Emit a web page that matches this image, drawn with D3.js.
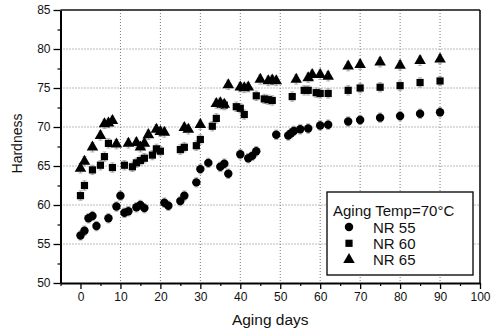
<!DOCTYPE html>
<html lang="en">
<head>
    <meta charset="UTF-8">
    <title>Hardness vs Aging days</title>
    <script src="https://cdnjs.cloudflare.com/ajax/libs/d3/7.8.5/d3.min.js"></script>
    <style>
        body {
            margin: 0;
            background-color: #ffffff;
            font-family: "Liberation Sans", Arial, sans-serif;
        }
        svg text {
            fill: #111;
        }
    </style>
</head>
<body>
    <div id="plot"></div>

    <script>
        // Data
        const nr55Days = [0, 1, 2, 3, 4, 7, 9, 10, 11, 12, 14, 15, 16, 21, 22, 25, 26, 29, 30, 32, 35, 36, 37,
            40, 42, 43, 44, 49, 52, 52.7, 53.4, 55, 57, 60, 62, 67, 70, 75, 80, 85, 90];
        const nr55Hardness = [56.1, 56.7, 58.3, 58.6, 57.3, 58.3, 59.8, 61.2, 59.0, 59.2, 59.7, 60.0, 59.6, 60.3, 59.9,
            60.5, 61.2, 62.9, 64.6, 65.4, 64.9, 65.3, 64.0, 66.5, 66.0, 66.3, 66.9, 69.0, 68.9, 69.2, 69.5,
            69.7, 69.8, 70.2, 70.3, 70.7, 70.9, 71.2, 71.4, 71.7, 71.9];

        const nr60Days = [0, 1, 3, 5, 6, 7, 8, 11, 13, 14, 15, 16, 18, 19, 20, 25, 26, 29, 30, 33, 34, 35, 36,
            39, 40, 41, 44, 46, 47, 48, 53, 56, 57, 59, 60, 62, 67, 70, 75, 80, 85, 90];
        const nr60Hardness = [61.2, 62.5, 64.5, 65.1, 66.2, 67.9, 64.8, 65.1, 64.9, 65.4, 65.7, 66.0, 66.4, 67.2, 66.9,
            67.1, 67.4, 67.6, 68.4, 70.1, 71.1, 72.9, 72.8, 72.6, 72.4, 71.6, 74.0, 73.6, 73.5, 73.4,
            73.9, 74.7, 74.7, 74.4, 74.3, 74.3, 74.7, 75.0, 75.1, 75.3, 75.7, 75.9];

        const nr65Days = [0, 1, 3, 5, 6, 7, 8, 9, 12, 14, 15, 16, 17, 19, 20, 21, 26, 27, 30, 34, 35, 36, 37,
            40, 41, 42, 45, 47, 48, 49, 54, 57, 58, 60, 62, 67, 70, 75, 80, 85, 90];
        const nr65Hardness = [64.7, 65.6, 67.4, 68.9, 70.4, 70.5, 70.8, 67.8, 67.9, 68.0, 67.4, 67.9, 69.0, 69.7, 69.4,
            69.3, 69.9, 69.7, 70.3, 73.0, 73.1, 72.9, 75.4, 75.1, 75.0, 75.1, 76.1, 75.9, 76.0, 75.9,
            76.1, 76.3, 76.7, 76.7, 76.5, 77.8, 78.0, 78.3, 77.9, 78.5, 78.7];

        const seriesNames = ["NR 55", "NR 60", "NR 65"];
        const seriesSymbols = ["circle", "square", "triangle"];
        const seriesErr = [0.6, 0.6, 0.6];
        const legendTitle = "Aging Temp=70°C";

        const xTicks = [0, 10, 20, 30, 40, 50, 60, 70, 80, 90, 100];
        const yTicks = [50, 55, 60, 65, 70, 75, 80, 85];

        const W = 504, H = 333;
        const mLeft = 60.5, mRight = 480, mTop = 10, mBottom = 283;

        const svg = d3.select("#plot")
            .append("svg")
                .attr("width", W)
                .attr("height", H);

        const x = d3.scaleLinear().domain([-5, 100]).range([mLeft, mRight]);
        const y = d3.scaleLinear().domain([50, 85]).range([mBottom, mTop]);

        // Dotted grid
        svg.append("g")
            .selectAll("line")
            .data(xTicks.filter(d => d > 0 && d < 100))
            .join("line")
                .attr("x1", d => x(d)).attr("x2", d => x(d))
                .attr("y1", mTop).attr("y2", mBottom)
                .attr("stroke", "#777")
                .attr("stroke-width", 1)
                .attr("stroke-dasharray", "1,2");
        svg.append("g")
            .selectAll("line")
            .data(yTicks.filter(d => d > 50 && d < 85))
            .join("line")
                .attr("x1", mLeft).attr("x2", mRight)
                .attr("y1", d => y(d)).attr("y2", d => y(d))
                .attr("stroke", "#777")
                .attr("stroke-width", 1)
                .attr("stroke-dasharray", "1,2");

        // Minor ticks
        const xMinor = d3.range(-5, 100, 5).filter(d => d % 10 !== 0);
        const yMinor = d3.range(52.5, 85, 5);
        svg.append("g")
            .attr("transform", `translate(0,${mBottom})`)
            .call(d3.axisBottom(x).tickValues(xMinor).tickSize(3).tickFormat(""))
            .call(g => g.select(".domain").remove())
            .call(g => g.selectAll("line").attr("stroke-width", 1.2));
        svg.append("g")
            .attr("transform", `translate(${mLeft},0)`)
            .call(d3.axisLeft(y).tickValues(yMinor).tickSize(3).tickFormat(""))
            .call(g => g.select(".domain").remove())
            .call(g => g.selectAll("line").attr("stroke-width", 1.2));

        // Major axes
        svg.append("g")
            .attr("transform", `translate(0,${mBottom})`)
            .call(d3.axisBottom(x).tickValues(xTicks).tickSize(6).tickPadding(3).tickSizeOuter(0))
            .call(g => g.select(".domain").attr("stroke-width", 2))
            .call(g => g.selectAll("line").attr("stroke-width", 1.3))
            .call(g => g.selectAll("text")
                .attr("font-size", 12)
                .attr("font-family", "'Liberation Sans', Arial, sans-serif"));
        svg.append("g")
            .attr("transform", `translate(${mLeft},0)`)
            .call(d3.axisLeft(y).tickValues(yTicks).tickSize(7).tickPadding(3).tickSizeOuter(0))
            .call(g => g.select(".domain").attr("stroke-width", 2))
            .call(g => g.selectAll("line").attr("stroke-width", 1.3))
            .call(g => g.selectAll("text")
                .attr("font-size", 12)
                .attr("font-family", "'Liberation Sans', Arial, sans-serif"));

        // Top and right frame
        svg.append("line")
            .attr("x1", mLeft).attr("x2", mRight)
            .attr("y1", mTop).attr("y2", mTop)
            .attr("stroke", "#111").attr("stroke-width", 1.6);
        svg.append("line")
            .attr("x1", mRight).attr("x2", mRight)
            .attr("y1", mTop).attr("y2", mBottom)
            .attr("stroke", "#111").attr("stroke-width", 1.6);

        // Axis labels
        svg.append("text")
            .attr("text-anchor", "middle")
            .attr("x", (mLeft + mRight) / 2)
            .attr("y", 325)
            .attr("font-size", 15.5)
            .text("Aging days");
        svg.append("text")
            .attr("text-anchor", "middle")
            .attr("transform", `translate(22,${(mTop + mBottom) / 2 - 3}) rotate(-90)`)
            .attr("font-size", 14)
            .text("Hardness");

        // Series
        const series = [
            {days: nr55Days, vals: nr55Hardness},
            {days: nr60Days, vals: nr60Hardness},
            {days: nr65Days, vals: nr65Hardness}
        ];

        const symbolMap = {
            circle: d3.symbol().type(d3.symbolCircle).size(56),
            square: d3.symbol().type(d3.symbolSquare).size(52),
            triangle: d3.symbol().type(d3.symbolTriangle).size(58)
        };

        series.forEach((s, i) => {
            const pts = s.days.map((d, j) => ({d, v: s.vals[j]}));
            const err = seriesErr[i];
            const g = svg.append("g");

            // Error bars
            g.selectAll("path.err")
                .data(pts)
                .join("path")
                    .attr("class", "err")
                    .attr("fill", "none")
                    .attr("stroke", "#999")
                    .attr("stroke-width", 0.8)
                    .attr("d", p => {
                        const cx = x(p.d), y1 = y(p.v - err), y2 = y(p.v + err);
                        return `M${cx},${y1}V${y2}M${cx - 2},${y1}H${cx + 2}M${cx - 2},${y2}H${cx + 2}`;
                    });

            g.selectAll("path.pt")
                .data(pts)
                .join("path")
                    .attr("class", "pt")
                    .attr("transform", p => `translate(${x(p.d)},${y(p.v)})`)
                    .attr("d", symbolMap[seriesSymbols[i]])
                    .attr("fill", "#000");
        });

        // Legend
        const lg = svg.append("g");
        lg.append("rect")
            .attr("x", 327).attr("y", 192)
            .attr("width", 146).attr("height", 83)
            .attr("fill", "#fff")
            .attr("stroke", "#111")
            .attr("stroke-width", 1.4);
        lg.append("text")
            .attr("x", 333).attr("y", 216)
            .attr("font-size", 15)
            .text(legendTitle);
        seriesNames.forEach((name, i) => {
            const cy = 227 + i * 16.3;
            lg.append("path")
                .attr("transform", `translate(349,${cy})`)
                .attr("d", symbolMap[seriesSymbols[i]])
                .attr("fill", "#000");
            lg.append("text")
                .attr("x", 373).attr("y", cy + 5.5)
                .attr("font-size", 15)
                .text(name);
        });
    </script>
</body>
</html>
